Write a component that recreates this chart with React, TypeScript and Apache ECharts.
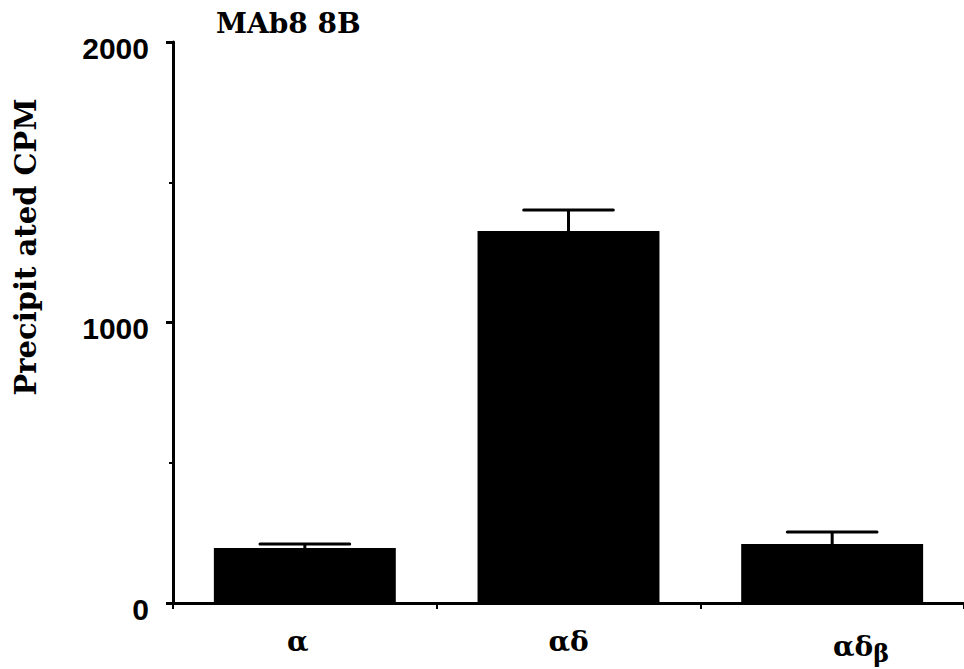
import React, { useEffect, useRef } from "react";
import * as echarts from "echarts";

const categories = ["α", "αδ", "αδβ"];
const values = [196, 1326, 210];
const upperErrors = [14, 75, 43];
const yTicks = [0, 1000, 2000];
const titleText = "MAb8 8B";
const yTitle = "Precipit ated CPM";

export default function App() {
  const ref = useRef<HTMLDivElement>(null);
  useEffect(() => {
    document.body.style.margin = "0";
    const chart = echarts.init(ref.current!, null, { renderer: "svg" });
    const serif = "'DejaVu Serif', 'Liberation Serif', serif";
    const sans = "'Liberation Sans', Arial, sans-serif";
    const errData = categories.map((c, i) => [i, values[i], values[i] + upperErrors[i]]);
    chart.setOption({
      animation: false,
      backgroundColor: "#fff",
      grid: { left: 173, top: 42, bottom: 66, right: -4, containLabel: false },
      graphic: [
        {
          type: "text",
          left: 216,
          top: 9,
          style: { text: titleText, font: `bold 28px ${serif}`, fill: "#000" },
        },
        {
          type: "text",
          x: 26,
          y: 247,
          rotation: Math.PI / 2,
          style: {
            text: yTitle,
            font: `bold 29px ${serif}`,
            fill: "#000",
            align: "center",
            verticalAlign: "middle",
          },
        },
      ],
      xAxis: {
        type: "category",
        data: categories,
        boundaryGap: true,
        axisLine: { show: true, lineStyle: { color: "#000", width: 3 } },
        axisTick: { show: true, length: 6, lineStyle: { color: "#000", width: 2 } },
        axisLabel: {
          interval: 0,
          hideOverlap: false,
          margin: 24,
          color: "#000",
          fontFamily: serif,
          fontWeight: "bold",
          fontSize: 28,
          formatter: (v: string) => {
            if (v === "αδβ") return "{p|αδ}{sub|β}";
            if (v === "α") return "{q|α}";
            return v;
          },
          rich: {
            p: { fontFamily: serif, fontWeight: "bold", fontSize: 28, color: "#000", padding: [0, 0, 0, 58] },
            q: { fontFamily: serif, fontWeight: "bold", fontSize: 28, color: "#000", padding: [0, 14, 0, 0] },
            sub: { fontFamily: serif, fontWeight: "bold", fontSize: 24, color: "#000", padding: [14, 0, 0, 0] },
          },
        },
      },
      yAxis: {
        type: "value",
        min: yTicks[0],
        max: yTicks[yTicks.length - 1],
        interval: yTicks[1] - yTicks[0],
        splitLine: { show: false },
        axisLine: { show: true, lineStyle: { color: "#000", width: 3 } },
        axisTick: { show: true, length: 7, lineStyle: { color: "#000", width: 3 } },
        minorTick: { show: true, splitNumber: 2, length: 4, lineStyle: { color: "#000", width: 2 } },
        axisLabel: {
          margin: 24,
          color: "#000",
          fontFamily: sans,
          fontWeight: "bold",
          fontSize: 30,
          verticalAlign: "top",
          lineHeight: 12,
          formatter: (v: number) => String(v),
        },
      },
      series: [
        {
          type: "bar",
          data: values,
          barWidth: "69%",
          itemStyle: { color: "#000" },
        },
        {
          type: "custom",
          data: errData,
          z: 5,
          renderItem: (params: any, api: any) => {
            const idx = api.value(0);
            const base = api.coord([idx, api.value(1)]);
            const top = api.coord([idx, api.value(2)]);
            const half = api.size([1, 0])[0] * 0.17;
            const style = { stroke: "#000", lineWidth: 3 };
            return {
              type: "group",
              children: [
                { type: "line", shape: { x1: base[0], y1: base[1], x2: top[0], y2: top[1] }, style },
                { type: "line", shape: { x1: top[0] - half, y1: top[1], x2: top[0] + half, y2: top[1] }, style: { ...style, lineCap: "round" } },
              ],
            };
          },
        },
      ],
    });
    return () => chart.dispose();
  }, []);
  return <div ref={ref} style={{ position: "fixed", left: 0, top: 0, width: 964, height: 669 }} />;
}
